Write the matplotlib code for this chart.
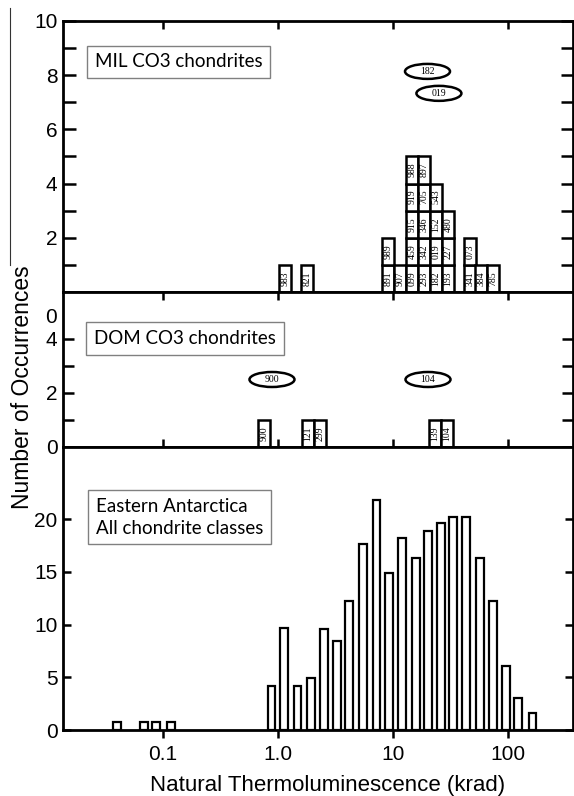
import matplotlib
matplotlib.use("Agg")
import matplotlib.pyplot as plt
import matplotlib.transforms as mtrans
from matplotlib.patches import Ellipse
from matplotlib.lines import Line2D
import numpy as np

# --- MIL CO3 chondrites: one column per bin, one labelled box per meteorite
mil_x = [1.15, 1.79, 9.03, 11.5, 14.6, 18.5, 23.5, 29.9, 46.5, 58.5, 73.6]
mil_ids = [["983"], ["821"], ["891", "989"], ["907"],
           ["099", "459", "915", "919", "988"],
           ["293", "342", "346", "705", "897"],
           ["182", "019", "152", "543"],
           ["193", "227", "480"],
           ["341", "073"], ["384"], ["785"]]
mil_flag_x = [19.9, 25.0]
mil_flag_y = [8.14, 7.33]
mil_flag_ids = ["182", "019"]

# --- DOM CO3 chondrites
dom_x = [0.757, 1.81, 2.32, 22.9, 29.4]
dom_ids = [["900"], ["121"], ["299"], ["139"], ["104"]]
dom_flag_x = [0.889, 20.1]
dom_flag_y = [2.5, 2.5]
dom_flag_ids = ["900", "104"]

# --- Eastern Antarctica, all chondrite classes
ea_x = [0.0401, 0.0689, 0.0883, 0.118,
        0.880, 1.13, 1.48, 1.94, 2.51, 3.26, 4.14, 5.48, 7.18, 9.21, 11.95,
        15.96, 20.09, 26.05, 33.11, 42.95, 56.79, 73.65, 95.5, 122.6, 162.3]
ea_counts = [0.8, 0.8, 0.8, 0.8,
             4.2, 9.7, 4.2, 4.9, 9.6, 8.4, 12.2, 17.6, 21.8, 14.9, 18.2,
             16.3, 18.9, 19.6, 20.2, 20.2, 16.3, 12.2, 6.1, 3.0, 1.6]

W, H = 574, 796
fig = plt.figure(figsize=(W / 100, H / 100), dpi=100)

L, R = 63 / W, 573 / W
ax1 = fig.add_axes([L, 1 - 292 / H, R - L, (292 - 21) / H])
ax2 = fig.add_axes([L, 1 - 447 / H, R - L, (447 - 292) / H])
ax3 = fig.add_axes([L, 1 - 730 / H, R - L, (730 - 447) / H])

tick_font = ["Liberation Sans", "DejaVu Sans"]
label_font = ["Liberation Sans", "DejaVu Sans"]
box_font = ["Lato", "DejaVu Sans"]
small_font = ["Liberation Serif", "DejaVu Serif"]
TICK_FS = 15


def log_span(c, w):
    left = c * 10 ** (-w / 2)
    return left, c * 10 ** (w / 2) - left


def style_axis(ax, ylim, tick_len, bottom_ticks=False):
    ax.set_xscale("log")
    ax.set_xlim(0.01364, 364.6)
    ax.set_ylim(*ylim)
    for s in ax.spines.values():
        s.set_linewidth(2.0)
    ax.set_xticks([0.1, 1, 10, 100])
    ax.xaxis.set_minor_locator(matplotlib.ticker.NullLocator())
    ax.tick_params(axis="x", which="major", top=True, bottom=bottom_ticks,
                   direction="in", length=6, width=1.8,
                   labelbottom=bottom_ticks)
    if bottom_ticks:
        ax.tick_params(axis="x", which="major", bottom=True, direction="out",
                       length=6, width=1.8, pad=5)
        ax.tick_params(axis="x", which="major", top=True)
    ax.tick_params(axis="y", which="both", left=True, right=True,
                   direction="in", length=tick_len, width=1.8, pad=4)
    for lab in ax.get_yticklabels() + ax.get_xticklabels():
        lab.set_family(tick_font)
        lab.set_fontsize(TICK_FS)


def stacked_cells(ax, xs, ids):
    for c, col in zip(xs, ids):
        left, width = log_span(c, 0.104)
        for k, name in enumerate(col):
            ax.bar(left, 1, width=width, bottom=k, align="edge",
                   facecolor="white", edgecolor="black", linewidth=1.8)
            ax.text(c, k + 0.5, name, rotation=90, ha="center", va="center",
                    fontsize=7, family=small_font)


def flags(ax, xs, ys, ids):
    for x, y, name in zip(xs, ys, ids):
        tr = fig.dpi_scale_trans + mtrans.ScaledTranslation(x, y, ax.transData)
        e = Ellipse((0, 0), 0.45, 0.15, transform=tr, facecolor="white",
                    edgecolor="black", linewidth=1.8)
        ax.add_artist(e)
        ax.text(x, y, name, ha="center", va="center", fontsize=7,
                family=small_font)


box_style = dict(boxstyle="square,pad=0.42", facecolor="white",
                 edgecolor="#808080", linewidth=1.0)

# top panel
stacked_cells(ax1, mil_x, mil_ids)
flags(ax1, mil_flag_x, mil_flag_y, mil_flag_ids)
ax1.set_yticks([2, 4, 6, 8, 10])
ax1.set_yticks([1, 3, 5, 7, 9], minor=True)
style_axis(ax1, (0, 10), 9)
ax1.tick_params(axis="y", which="minor", length=9, width=1.8)
ax1.text(0.0627, 0.849, "MIL CO3 chondrites", transform=ax1.transAxes,
         ha="left", va="center", fontsize=13.5, family=box_font, bbox=box_style)

# middle panel
stacked_cells(ax2, dom_x, dom_ids)
flags(ax2, dom_flag_x, dom_flag_y, dom_flag_ids)
ax2.set_yticks([0, 2, 4])
ax2.set_yticks([1, 3], minor=True)
style_axis(ax2, (0, 5.74), 8)
ax2.tick_params(axis="y", which="minor", length=8, width=1.8)
ax2.text(-0.012, 4.78, "0", transform=ax2.get_yaxis_transform(),
         ha="right", va="center", fontsize=TICK_FS, family=tick_font)
ax2.text(0.061, 0.70, "DOM CO3 chondrites", transform=ax2.transAxes,
         ha="left", va="center", fontsize=13.5, family=box_font, bbox=box_style)

# bottom panel
lefts, widths = zip(*[log_span(c, 0.069) for c in ea_x])
ax3.bar(lefts, ea_counts, width=widths, align="edge", facecolor="white",
        edgecolor="black", linewidth=1.6)
ax3.set_yticks([0, 5, 10, 15, 20])
style_axis(ax3, (0, 26.85), 6, bottom_ticks=True)
ax3.set_xticklabels(["0.1", "1.0", "10", "100"])
for lab in ax3.get_xticklabels():
    lab.set_family(tick_font)
    lab.set_fontsize(TICK_FS)
ax3.text(0.0647, 0.751, "Eastern Antarctica\nAll chondrite classes",
         transform=ax3.transAxes, ha="left", va="center", fontsize=13.5,
         family=box_font, linespacing=1.3, bbox=box_style)

fig.text(328 / W, 1 - 786 / H, "Natural Thermoluminescence (krad)",
         ha="center", va="center", fontsize=16, family=label_font)
fig.text(23 / W, 1 - 387 / H, "Number of Occurrences", rotation=90,
         ha="center", va="center", fontsize=16.5, family=label_font)
fig.add_artist(Line2D([10 / W, 10 / W], [1 - 8 / H, 1 - 265 / H],
                      transform=fig.transFigure, color="#333333", lw=0.8))

fig.savefig("out.png", dpi=100, facecolor="white")
